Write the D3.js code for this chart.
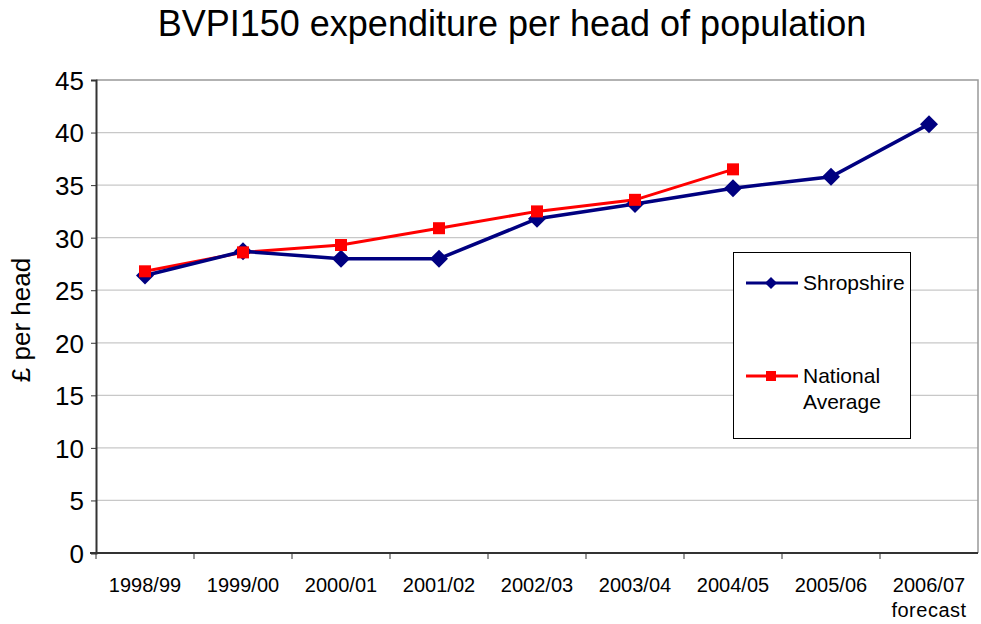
<!DOCTYPE html>
<html>
<head>
<meta charset="utf-8">
<script src="https://cdn.jsdelivr.net/npm/d3@7"></script>
<style>
  body { margin: 0; background: #fff; }
  svg { display: block; font-family: "Liberation Sans", Arial, sans-serif; }
</style>
</head>
<body>
<svg id="chart" width="981" height="624"></svg>
<script>
// chart values
const years = ["1998/99", "1999/00", "2000/01", "2001/02", "2002/03", "2003/04", "2004/05", "2005/06", "2006/07"];
const shropshire = [26.4, 28.7, 28.0, 28.0, 31.8, 33.2, 34.7, 35.8, 40.8];
const nationalAvg = [26.8, 28.6, 29.3, 30.9, 32.5, 33.6, 36.5];
const yTicks = [0, 5, 10, 15, 20, 25, 30, 35, 40, 45];

const width = 981, height = 624;
const margin = { top: 80, right: 3, bottom: 71, left: 96 };

const svg = d3.select("#chart");

const x = d3.scaleBand()
  .domain(years)
  .range([margin.left, width - margin.right]);

const y = d3.scaleLinear()
  .domain([0, 45])
  .range([height - margin.bottom, margin.top]);

// title
svg.append("text")
  .attr("x", 512)
  .attr("y", 36)
  .attr("text-anchor", "middle")
  .style("font-size", "36px")
  .text("BVPI150 expenditure per head of population");

// gridlines
svg.append("g")
  .selectAll("line")
  .data(yTicks.filter(d => d > 0 && d < 45))
  .enter()
  .append("line")
  .attr("x1", margin.left)
  .attr("x2", width - margin.right)
  .attr("y1", d => y(d))
  .attr("y2", d => y(d))
  .attr("stroke", "#c8c8c8")
  .attr("stroke-width", 1.2);

// plot border top & right
svg.append("path")
  .attr("d", `M${margin.left},${y(45)}H${width - margin.right}V${y(0)}`)
  .attr("fill", "none")
  .attr("stroke", "#999")
  .attr("stroke-width", 1.5);

// y axis
const yAxis = svg.append("g")
  .attr("transform", `translate(${margin.left},0)`)
  .call(d3.axisLeft(y).tickValues(yTicks).tickSize(5).tickPadding(7));
yAxis.select(".domain").attr("stroke", "#333").attr("stroke-width", 2);
yAxis.selectAll(".tick line").attr("stroke", "#333");
yAxis.selectAll("text")
  .style("font-size", "26px")
  .style("font-family", "Liberation Sans, Arial, sans-serif")
  .attr("fill", "#000")
  .attr("dy", "0.36em");

// x axis - ticks at band boundaries
const xAxisG = svg.append("g")
  .attr("transform", `translate(0,${y(0)})`);
xAxisG.append("line")
  .attr("x1", margin.left - 6)
  .attr("x2", width - margin.right)
  .attr("stroke", "#333")
  .attr("stroke-width", 2);
xAxisG.selectAll(".bt")
  .data(years)
  .enter()
  .append("line")
  .attr("class", "bt")
  .attr("x1", d => x(d))
  .attr("x2", d => x(d))
  .attr("y1", 0)
  .attr("y2", 6)
  .attr("stroke", "#333");
xAxisG.selectAll(".lbl")
  .data(years)
  .enter()
  .append("text")
  .attr("class", "lbl")
  .attr("x", d => x(d) + x.bandwidth() / 2)
  .attr("y", 39)
  .attr("text-anchor", "middle")
  .style("font-size", "20px")
  .text(d => d);
xAxisG.append("text")
  .attr("x", x(years[8]) + x.bandwidth() / 2)
  .attr("y", 64)
  .attr("text-anchor", "middle")
  .style("font-size", "20px")
  .style("letter-spacing", "0.5px")
  .text("forecast");

// y label
svg.append("text")
  .attr("transform", "translate(30,320) rotate(-90)")
  .attr("text-anchor", "middle")
  .style("font-size", "26px")
  .text("£ per head");

const cx = (d, i) => x(years[i]) + x.bandwidth() / 2;

const line = d3.line()
  .x(cx)
  .y(d => y(d));

// national average
svg.append("path")
  .datum(nationalAvg)
  .attr("d", line)
  .attr("fill", "none")
  .attr("stroke", "#ff0000")
  .attr("stroke-width", 3);

// shropshire
svg.append("path")
  .datum(shropshire)
  .attr("d", line)
  .attr("fill", "none")
  .attr("stroke", "#000080")
  .attr("stroke-width", 3.5);

const diamond = s => `M0,${-s}L${s},0L0,${s}L${-s},0Z`;

svg.append("g")
  .selectAll("path")
  .data(shropshire)
  .enter()
  .append("path")
  .attr("transform", (d, i) => `translate(${cx(d, i)},${y(d)})`)
  .attr("d", diamond(9))
  .attr("fill", "#000080");

svg.append("g")
  .selectAll("rect")
  .data(nationalAvg)
  .enter()
  .append("rect")
  .attr("x", (d, i) => cx(d, i) - 6)
  .attr("y", d => y(d) - 6)
  .attr("width", 12)
  .attr("height", 12)
  .attr("fill", "#ff0000");

// legend
const lg = svg.append("g");
lg.append("rect")
  .attr("x", 733.5)
  .attr("y", 252.5)
  .attr("width", 177)
  .attr("height", 186)
  .attr("fill", "#fff")
  .attr("stroke", "#000")
  .attr("stroke-width", 1);

lg.append("line")
  .attr("x1", 746).attr("x2", 798)
  .attr("y1", 283).attr("y2", 283)
  .attr("stroke", "#000080").attr("stroke-width", 3);
lg.append("path")
  .attr("transform", "translate(771,283)")
  .attr("d", diamond(6))
  .attr("fill", "#000080");
lg.append("text")
  .attr("x", 803).attr("y", 290)
  .style("font-size", "21px")
  .text("Shropshire");

lg.append("line")
  .attr("x1", 746).attr("x2", 798)
  .attr("y1", 376).attr("y2", 376)
  .attr("stroke", "#ff0000").attr("stroke-width", 3);
lg.append("rect")
  .attr("x", 766).attr("y", 371)
  .attr("width", 10).attr("height", 10)
  .attr("fill", "#ff0000");
lg.append("text")
  .attr("x", 803).attr("y", 383)
  .style("font-size", "21px")
  .text("National");
lg.append("text")
  .attr("x", 803).attr("y", 409)
  .style("font-size", "21px")
  .text("Average");
</script>
</body>
</html>
